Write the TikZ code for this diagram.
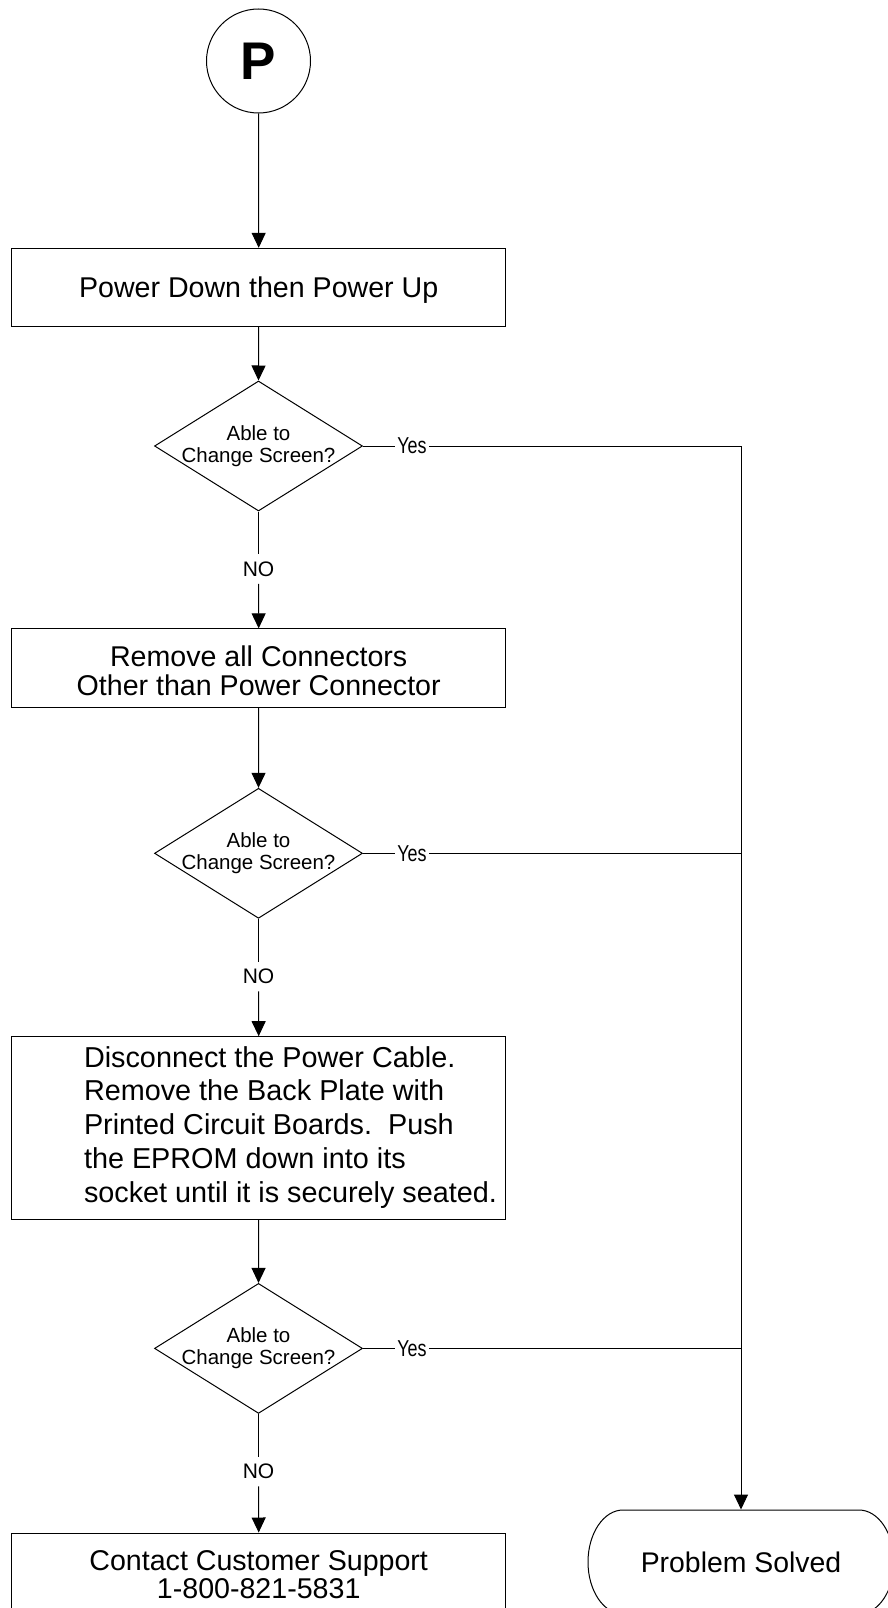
\documentclass[tikz,border=0pt]{standalone}
\usepackage{fontspec}
\setmainfont{Liberation Sans}
\newfontfamily\narrowfont[FakeStretch=0.78]{Liberation Sans}
\usetikzlibrary{shapes.geometric,arrows.meta}
\newcommand{\topstrut}{\rule{0pt}{26pt}}
\newcommand{\midstrut}{\rule{0pt}{23pt}}
\begin{document}
\begin{tikzpicture}[x=1pt,y=-1pt,
  line width=1pt,
  every node/.style={inner sep=0pt},
  procbox/.style={draw, rectangle, minimum width=494pt, align=center,
    font=\fontsize{28.6}{28.6}\selectfont},
  decision/.style={draw, diamond, shape aspect=1.6, inner sep=-3pt,
    minimum width=208pt, minimum height=130pt, align=center,
    font=\fontsize{20.5}{22.5}\selectfont},
  connector/.style={draw, circle, minimum size=104pt,
    font=\bfseries\fontsize{53}{53}\selectfont},
  arr/.style={-{Triangle[length=15pt,width=14pt]}},
  nolabel/.style={font=\fontsize{21}{21}\selectfont, inner ysep=7pt, inner xsep=3pt},
  yeslabel/.style={font=\narrowfont\fontsize{23}{23}\selectfont, inner xsep=2pt, inner ysep=3pt},
  terminal/.style={minimum width=306pt, minimum height=104pt,
    font=\fontsize{28.4}{28.4}\selectfont},
]
\fill[white] (0,0) rectangle (887,1608);
\useasboundingbox (0,0) rectangle (887,1608);

% nodes
\node[connector] (p) at (258.5,61) {P};
\node[procbox, minimum height=77.7pt] (b1) at (258.7,287.2) {\topstrut Power Down then Power Up};
\node[decision] (d1) at (258.5,446) {Able to\\Change Screen?};
\node[nolabel] (no1) at (258.5,569) {NO};
\node[procbox, minimum height=78.3pt, font=\fontsize{28.6}{28.5}\selectfont] (b2) at (258.7,668)
  {\topstrut Remove all Connectors\\Other than Power Connector};
\node[decision] (d2) at (258.5,853.3) {Able to\\Change Screen?};
\node[nolabel] (no2) at (258.5,976.5) {NO};
\node[draw, rectangle, minimum width=494pt, minimum height=182.6pt] (b3) at (258.7,1128)
  {\fontsize{28.8}{33.8}\selectfont\hspace*{63.6pt}\begin{tabular}{@{}l@{}}
  Disconnect the Power Cable.\\
  Remove the Back Plate with\\
  Printed Circuit Boards.\ \ Push\\
  the EPROM down into its\\
  socket until it is securely seated.
  \end{tabular}};
\node[decision] (d3) at (258.5,1348.4) {Able to\\Change Screen?};
\node[nolabel] (no3) at (258.5,1471.5) {NO};
\node[procbox, minimum height=80pt, font=\fontsize{28.6}{28.7}\selectfont] (b4) at (258.7,1573)
  {\midstrut Contact Customer Support\\1-800-821-5831};

\node[yeslabel] (y1) at (412,446) {Yes};
\node[yeslabel] (y2) at (412,853.3) {Yes};
\node[yeslabel] (y3) at (412,1348.4) {Yes};
\coordinate (j1) at (741,446);
\coordinate (j2) at (741,853.3);
\coordinate (j3) at (741,1348.4);

\node[terminal] (solved) at (741,1562) {Problem Solved};
\draw (623,1510) -- (859,1510)
  .. controls (878.3,1510) and (894,1533.3) .. (894,1562)
  .. controls (894,1590.7) and (878.3,1614) .. (859,1614)
  -- (623,1614)
  .. controls (603.7,1614) and (588,1590.7) .. (588,1562)
  .. controls (588,1533.3) and (603.7,1510) .. (623,1510) -- cycle;

% connectors
\draw[arr] (p.south) -- (b1.north);
\draw[arr] (b1.south) -- (d1.north);
\draw (d1.south) -- (no1.north);
\draw[arr] (no1.south) -- (b2.north);
\draw[arr] (b2.south) -- (d2.north);
\draw (d2.south) -- (no2.north);
\draw[arr] (no2.south) -- (b3.north);
\draw[arr] (b3.south) -- (d3.north);
\draw (d3.south) -- (no3.north);
\draw[arr] (no3.south) -- (b4.north);

\draw (d1.east) -- (y1.west);
\draw (y1.east) -- (j1);
\draw (d2.east) -- (y2.west);
\draw (y2.east) -- (j2);
\draw (d3.east) -- (y3.west);
\draw (y3.east) -- (j3);
\draw[arr] (j1) -- (solved.north);
\end{tikzpicture}
\end{document}
